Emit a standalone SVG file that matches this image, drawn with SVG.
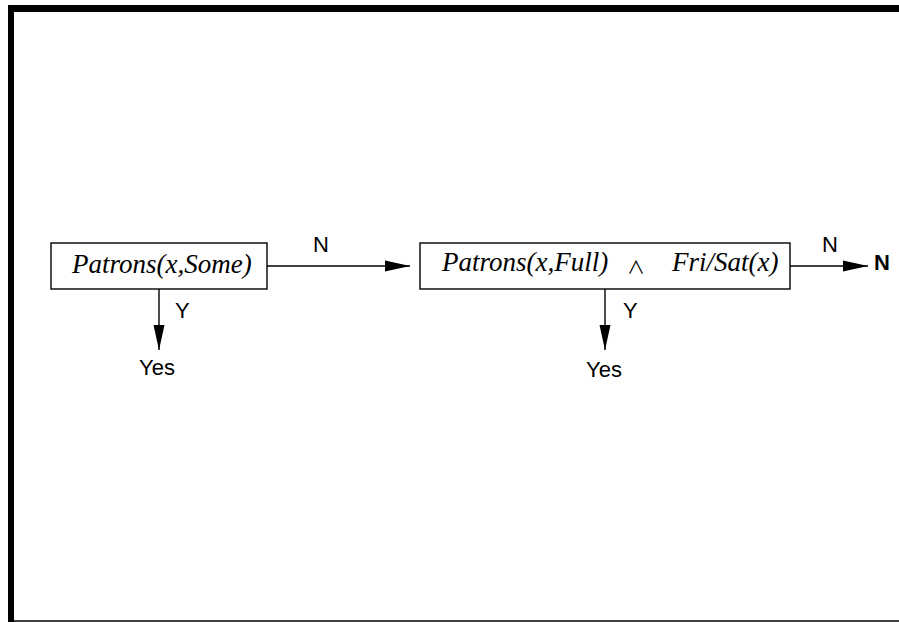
<svg xmlns="http://www.w3.org/2000/svg" width="899" height="622" viewBox="0 0 899 622">
<style>
.box{fill:#fff;stroke:#000;stroke-width:1.4}
.ln{fill:none;stroke:#000;stroke-width:1.4}
.it{font-family:"Liberation Serif","Times New Roman",serif;font-style:italic;font-size:27px;fill:#000}
.sn{font-family:"Liberation Sans",Arial,sans-serif;font-size:22px;fill:#000}
.op{font-family:"Noto Sans CJK JP","DejaVu Sans",sans-serif;font-weight:400;font-size:18px;fill:#000}
</style>
<defs>
<marker id="ah" markerUnits="userSpaceOnUse" markerWidth="26" markerHeight="12" refX="25" refY="6" orient="auto" viewBox="0 0 26 12">
<polygon points="0,0.5 25,6 0,11.5" fill="#000"/>
</marker>
</defs>
<rect x="0" y="0" width="899" height="622" fill="#fff"/>
<g id="frame">
<rect x="8" y="5" width="891" height="7" fill="#000"/>
<rect x="8" y="5" width="6" height="617" fill="#000"/>
<line x1="8" y1="621" x2="899" y2="621" stroke="#000" stroke-width="1.6"/>
</g>
<g id="connectors">
<line class="ln" x1="267" y1="266" x2="410" y2="266" marker-end="url(#ah)"/>
<line class="ln" x1="159" y1="289" x2="159" y2="350" marker-end="url(#ah)"/>
<line class="ln" x1="790" y1="266" x2="868" y2="266" marker-end="url(#ah)"/>
<line class="ln" x1="605" y1="289" x2="605" y2="350" marker-end="url(#ah)"/>
<text class="sn" x="313" y="252">N</text>
<text class="sn" x="175" y="318">Y</text>
<text class="sn" x="822" y="252">N</text>
<text class="sn" x="623" y="318">Y</text>
</g>
<g id="node1">
<rect class="box" x="51" y="243" width="216" height="46"/>
<text class="it" x="72" y="273">Patrons(x,Some)</text>
</g>
<g id="node2">
<rect class="box" x="420" y="243" width="370" height="46"/>
<text class="it" x="442" y="271">Patrons(x,Full)</text>
<text class="op" x="627" y="274">∧</text>
<text class="it" x="672" y="271">Fri/Sat(x)</text>
</g>
<g id="yes1">
<text class="sn" x="139" y="375">Yes</text>
</g>
<g id="yes2">
<text class="sn" x="586" y="377">Yes</text>
</g>
<g id="no">
<text class="sn" x="874" y="270" font-weight="bold">N</text>
</g>
</svg>
